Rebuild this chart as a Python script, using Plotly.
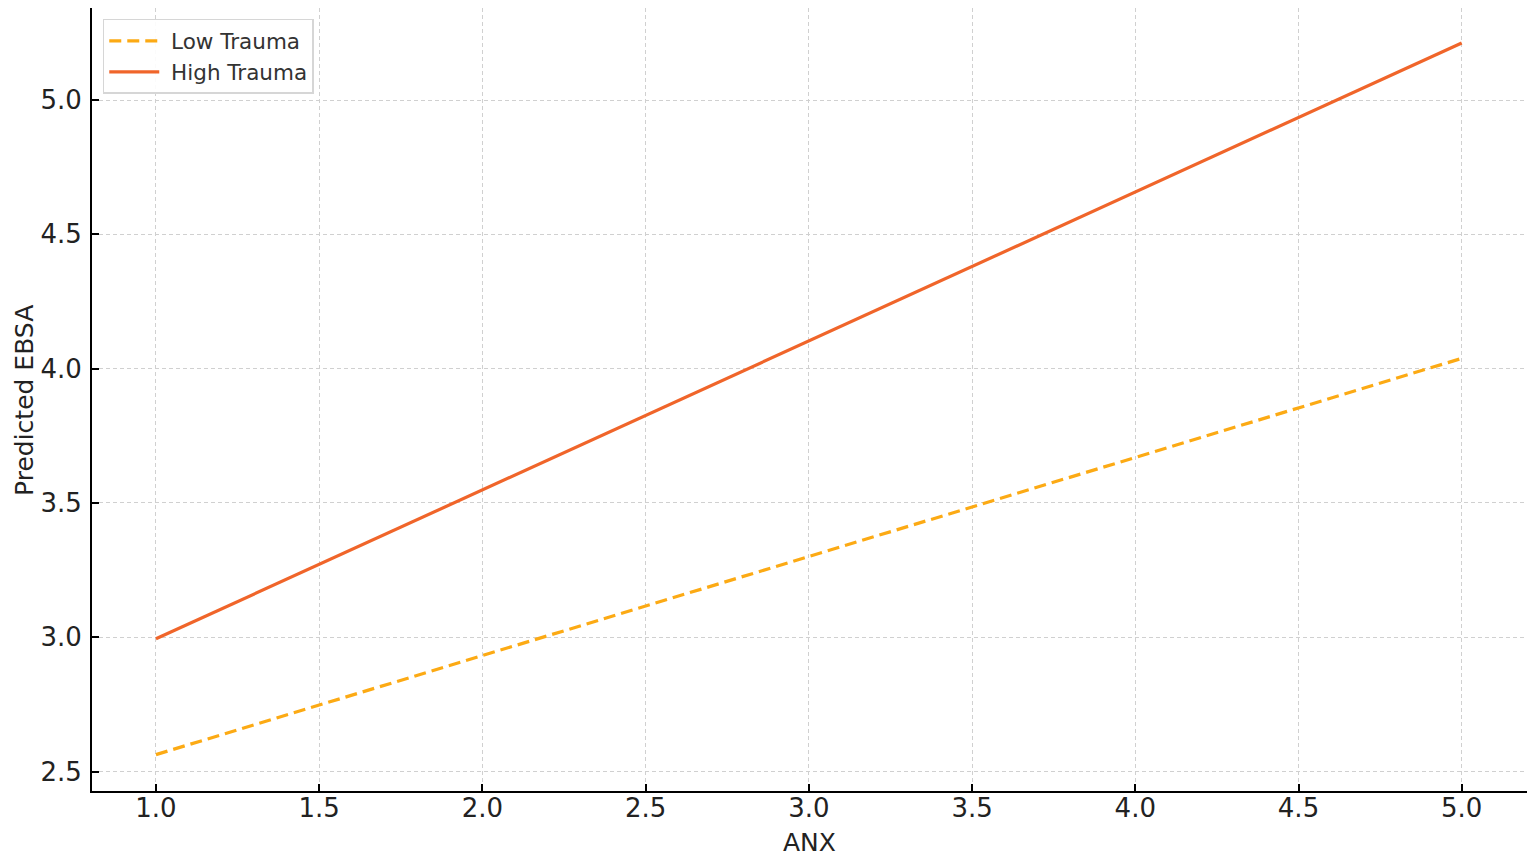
import plotly.graph_objects as go

# 数据：ANX 取值与两组预测 EBSA
anx = [1.0, 5.0]
low_trauma = [2.563, 4.038]
high_trauma = [2.994, 5.212]

x_ticks = [1.0, 1.5, 2.0, 2.5, 3.0, 3.5, 4.0, 4.5, 5.0]
y_ticks = [2.5, 3.0, 3.5, 4.0, 4.5, 5.0]

font_family = "DejaVu Sans, Arial, sans-serif"
text_color = "#222222"

fig = go.Figure()

fig.add_trace(go.Scatter(
    x=anx,
    y=low_trauma,
    mode="lines",
    name="\u00a0Low Trauma",
    line=dict(color="#FCAA14", width=3.2, dash="12px,6px"),
))

fig.add_trace(go.Scatter(
    x=anx,
    y=high_trauma,
    mode="lines",
    name="\u00a0High Trauma",
    line=dict(color="#F0652A", width=3.2),
))

axis_style = dict(
    showgrid=True,
    gridcolor="#D0D0D0",
    griddash="4px,3px",
    gridwidth=1.2,
    zeroline=False,
    automargin=False,
    showline=True,
    linecolor="black",
    linewidth=2,
    ticks="inside",
    ticklen=7,
    tickwidth=1.5,
    tickcolor="black",
    tickfont=dict(size=26, color=text_color),
)

fig.update_xaxes(
    range=[0.804, 5.2],
    tickvals=x_ticks,
    ticktext=[f"{v:.1f}" for v in x_ticks],
    ticklabelstandoff=-7,
    **axis_style,
)

fig.update_yaxes(
    range=[2.4275, 5.3425],
    tickvals=y_ticks,
    ticktext=[f"{v:.1f}" for v in y_ticks],
    ticklabelstandoff=3,
    **axis_style,
)

# 坐标轴标题用注释放置
fig.add_annotation(
    text="ANX", xref="paper", yref="paper", x=0.5, y=-0.0664,
    xanchor="center", yanchor="middle", showarrow=False,
    font=dict(size=25, color=text_color),
)
fig.add_annotation(
    text="Predicted EBSA", xref="paper", yref="paper", x=-0.0467, y=0.4994,
    xanchor="center", yanchor="middle", showarrow=False, textangle=-90,
    font=dict(size=25, color=text_color),
)

fig.update_layout(
    width=1536,
    height=860,
    paper_bgcolor="white",
    plot_bgcolor="white",
    font=dict(family=font_family),
    margin=dict(l=84, r=17, t=0, b=77, autoexpand=False),
    legend=dict(
        x=0.0075,
        y=0.986,
        xanchor="left",
        yanchor="top",
        bgcolor="rgba(255,255,255,0.9)",
        bordercolor="#D6D6D6",
        borderwidth=1.5,
        font=dict(size=21.5, color="#333333"),
        itemwidth=50,
        tracegroupgap=2,
    ),
    showlegend=True,
)

fig.write_html("out.html")
